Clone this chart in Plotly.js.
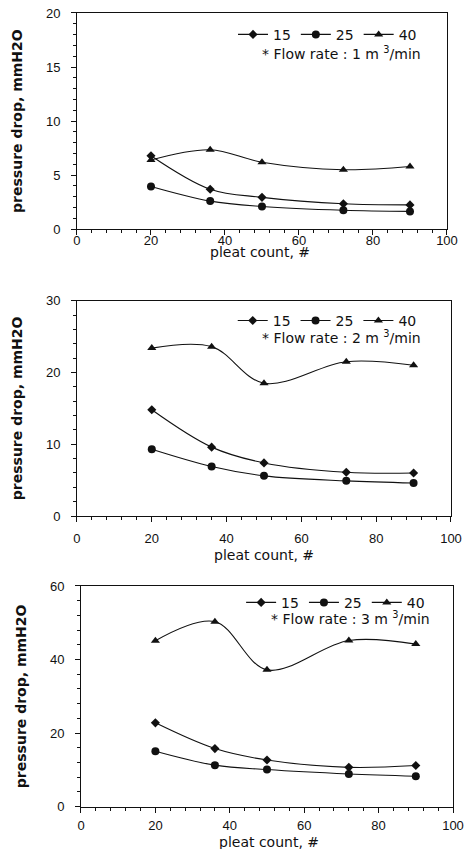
<!DOCTYPE html>
<html>
<head>
<meta charset="utf-8">
<script src="https://cdn.plot.ly/plotly-3.0.1.min.js"></script>
<style>html,body{margin:0;padding:0;background:#fff;}#chart{width:466px;height:849px;}</style>
</head>
<body>
<div id="chart"></div>
<script>
// ---- data ----
const pleatCount = [20, 36, 50, 72, 90];
const seriesNames = ['15', '25', '40'];
const flowRates = [1, 2, 3];

// flow rate 1 m3/min
const flow1_s15 = [6.8, 3.7, 2.95, 2.35, 2.25];
const flow1_s25 = [3.95, 2.6, 2.1, 1.75, 1.65];
const flow1_s40 = [6.4, 7.35, 6.2, 5.5, 5.8];
// flow rate 2 m3/min
const flow2_s15 = [14.8, 9.6, 7.4, 6.1, 6.0];
const flow2_s25 = [9.3, 6.9, 5.6, 4.9, 4.6];
const flow2_s40 = [23.4, 23.6, 18.5, 21.5, 21.0];
// flow rate 3 m3/min
const flow3_s15 = [22.8, 15.8, 12.7, 10.7, 11.2];
const flow3_s25 = [15.1, 11.3, 10.1, 8.9, 8.3];
const flow3_s40 = [45.1, 50.3, 37.2, 45.2, 44.2];

const yMax = [20, 30, 60];
const yTick = [5, 10, 20];
const yMinor = [1, 2, 4];
const xTickVals = [0, 20, 40, 60, 80, 100];

// ---- styling / layout ----
const symbols = ['diamond', 'circle', 'triangle-up'];
const msizes = [7, 8, 8];
const panelData = [
  [flow1_s15, flow1_s25, flow1_s40],
  [flow2_s15, flow2_s25, flow2_s40],
  [flow3_s15, flow3_s25, flow3_s40]
];
const xDomains = [[0.1652, 0.9592], [0.1652, 0.9678], [0.1738, 0.9721]];
const yDomains = [[0.7300, 0.9847], [0.3922, 0.6458], [0.0498, 0.3098]];
const legendPos = [[0.9056, 0.9590], [0.9050, 0.6220], [0.9230, 0.2900]];
const notePos = [[0.9077, 0.9376], [0.9070, 0.6034], [0.9265, 0.2717]];
const xLabelStandoff = [-6, 5, 2];
const xTitlePos = [[0.559, 0.7030], [0.5665, 0.3465], [0.577, 0.0080]];

const tickFont = {family: 'Liberation Sans, Arial, sans-serif', size: 13, color: '#111'};
const textFont = {family: 'DejaVu Sans, sans-serif', size: 14, color: '#111'};

const traces = [];
const layout = {
  width: 466, height: 849,
  margin: {l: 0, r: 0, t: 0, b: 0},
  paper_bgcolor: '#fff', plot_bgcolor: '#fff',
  showlegend: true,
  annotations: []
};

for (let p = 0; p < 3; p++) {
  const ax = p === 0 ? '' : String(p + 1);
  const legendId = p === 0 ? 'legend' : 'legend' + (p + 1);
  for (let s = 0; s < 3; s++) {
    traces.push({
      type: 'scatter', mode: 'lines+markers',
      x: pleatCount, y: panelData[p][s],
      name: seriesNames[s],
      xaxis: 'x' + ax, yaxis: 'y' + ax,
      legend: legendId,
      line: {color: '#111', width: 1.1, shape: 'spline', smoothing: 1},
      marker: {symbol: symbols[s], size: msizes[s], color: '#111'},
      hoverinfo: 'x+y+name'
    });
  }
  layout['xaxis' + ax] = {
    domain: xDomains[p], anchor: 'y' + ax,
    range: [0, 100], tickvals: xTickVals, ticktext: xTickVals.map(String),
    ticks: 'outside', ticklen: 5, tickcolor: '#111',
    minor: {dtick: 4, ticks: 'outside', ticklen: 3, tickcolor: '#111'},
    showline: true, linecolor: '#111', linewidth: 1, mirror: true,
    showgrid: false, zeroline: false,
    tickfont: tickFont, ticklabelstandoff: xLabelStandoff[p],
    automargin: false
  };
  layout['yaxis' + ax] = {
    domain: yDomains[p], anchor: 'x' + ax,
    range: [0, yMax[p]], dtick: yTick[p], tick0: 0,
    ticks: 'outside', ticklen: 5, tickcolor: '#111',
    minor: {dtick: yMinor[p], ticks: 'outside', ticklen: 3, tickcolor: '#111'},
    showline: true, linecolor: '#111', linewidth: 1, mirror: true,
    showgrid: false, zeroline: false,
    tickfont: tickFont, ticklabelstandoff: 8,
    title: {text: 'pressure drop, mmH2O', font: {family: 'DejaVu Sans, sans-serif', size: 14, color: '#111', weight: 'bold'}, standoff: 20},
    automargin: false
  };
  layout[legendId] = {
    orientation: 'h', x: legendPos[p][0], y: legendPos[p][1],
    xanchor: 'right', yanchor: 'middle', xref: 'paper', yref: 'paper',
    bgcolor: 'rgba(0,0,0,0)', font: textFont,
    itemwidth: 30, tracegroupgap: 0
  };
  layout.annotations.push({
    xref: 'paper', yref: 'paper', x: notePos[p][0], y: notePos[p][1],
    xanchor: 'right', yanchor: 'middle', showarrow: false,
    text: '* Flow rate : ' + flowRates[p] + ' m <sup>3</sup>/min',
    font: textFont
  });
  // x-axis title (placed as a paper annotation; in the reference it sits tight against the tick labels)
  layout.annotations.push({
    xref: 'paper', yref: 'paper', x: xTitlePos[p][0], y: xTitlePos[p][1],
    xanchor: 'center', yanchor: 'middle', showarrow: false,
    text: 'pleat count, #', font: textFont
  });
}

Plotly.newPlot('chart', traces, layout, {displayModeBar: false, staticPlot: true});
</script>
</body>
</html>
